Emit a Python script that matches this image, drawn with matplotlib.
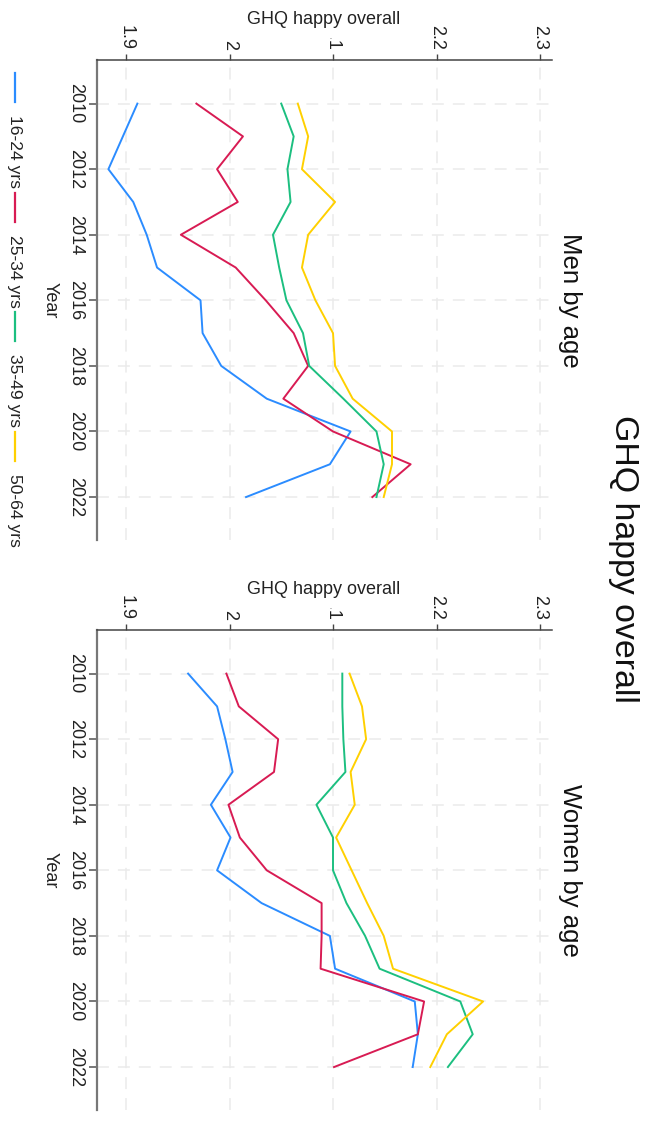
import matplotlib
matplotlib.use("Agg")
import matplotlib.pyplot as plt
from matplotlib.lines import Line2D

plt.rcParams['font.family'] = ['Liberation Sans', 'DejaVu Sans']

years = [2010, 2011, 2012, 2013, 2014, 2015, 2016, 2017, 2018, 2019, 2020, 2021, 2022]
groups = ["16-24 yrs", "25-34 yrs", "35-49 yrs", "50-64 yrs"]
colors = ["#2b8cff", "#d81b53", "#1cbf80", "#ffd000"]

men_16_24 = [1.911, 1.897, 1.883, 1.907, 1.920, 1.930, 1.972, 1.974, 1.992, 2.036, 2.117, 2.097, 2.016]
men_25_34 = [1.968, 2.013, 1.988, 2.008, 1.953, 2.006, 2.035, 2.062, 2.076, 2.052, 2.100, 2.175, 2.138]
men_35_49 = [2.050, 2.062, 2.056, 2.059, 2.042, 2.048, 2.055, 2.071, 2.077, 2.110, 2.142, 2.149, 2.142]
men_50_64 = [2.066, 2.076, 2.070, 2.102, 2.076, 2.070, 2.083, 2.100, 2.102, 2.119, 2.157, 2.157, 2.149]

women_16_24 = [1.960, 1.988, 1.996, 2.003, 1.982, 2.001, 1.988, 2.031, 2.097, 2.102, 2.179, 2.182, 2.177]
women_25_34 = [1.997, 2.009, 2.047, 2.043, 1.999, 2.010, 2.036, 2.089, 2.089, 2.088, 2.188, 2.182, 2.101]
women_35_49 = [2.109, 2.109, 2.110, 2.112, 2.084, 2.100, 2.100, 2.113, 2.131, 2.145, 2.223, 2.235, 2.211]
women_50_64 = [2.116, 2.128, 2.132, 2.117, 2.121, 2.103, 2.118, 2.133, 2.149, 2.158, 2.245, 2.210, 2.194]

value_ticks = [1.9, 2.0, 2.1, 2.2, 2.3]
value_labels = ["1.9", "2", "2.1", "2.2", "2.3"]
year_ticks = [2010, 2012, 2014, 2016, 2018, 2020, 2022]

panels = [
    ("Men by age", [men_16_24, men_25_34, men_35_49, men_50_64]),
    ("Women by age", [women_16_24, women_25_34, women_35_49, women_50_64]),
]

W, H = 650, 1126
fig = plt.figure(figsize=(W / 100, H / 100), dpi=100)

ax_left, ax_right = 97, 552
tops = [60, 630]
ax_h = 480

for (title, series), top in zip(panels, tops):
    ax = fig.add_axes([ax_left / W, 1 - (top + ax_h) / H, (ax_right - ax_left) / W, ax_h / H])
    for vals, c, g in zip(series, colors, groups):
        ax.plot(vals, years, color=c, lw=1.4, label=g, zorder=3)
    ax.set_xlim(1.87198, 2.31159)
    ax.set_ylim(2023.31, 2008.67)
    ax.set_xticks(value_ticks)
    ax.set_xticklabels(value_labels, rotation=-90)
    ax.set_yticks(year_ticks)
    ax.set_yticklabels([str(y) for y in year_ticks], rotation=-90, va='center')
    ax.xaxis.tick_top()
    ax.tick_params(axis='x', which='both', direction='out', length=4.5, width=1.0,
                   color='#444444', labelsize=13, pad=3, labelcolor='#222222')
    ax.tick_params(axis='y', direction='out', length=5.5, width=1.4,
                   color='#777777', labelsize=13, pad=4, labelcolor='#222222')
    for s in ['right', 'bottom']:
        ax.spines[s].set_visible(False)
    ax.spines['top'].set_color('#444444')
    ax.spines['top'].set_linewidth(1.1)
    ax.spines['left'].set_color('#777777')
    ax.spines['left'].set_linewidth(1.6)
    ax.grid(True, color='#ebebeb', lw=1.1, linestyle=(0, (7.8, 5.9)), zorder=0)
    ax.set_axisbelow(True)
    ax.set_xlabel("GHQ happy overall", fontsize=13, rotation=0, color='#222222',
                  bbox=dict(facecolor='white', edgecolor='none', pad=7))
    ax.xaxis.set_label_position('top')
    ax.xaxis.set_label_coords((324 - ax_left) / (ax_right - ax_left), 1 + 40 / ax_h)
    ax.xaxis.label.set_va('center')
    ax.xaxis.label.set_zorder(10)
    ax.set_ylabel("Year", fontsize=13, rotation=-90, color='#222222')
    ax.yaxis.set_label_coords((50 - ax_left) / (ax_right - ax_left), 0.5)
    ax.yaxis.label.set_va('center')
    ax.yaxis.label.set_ha('center')
    ax.text((570 - ax_left) / (ax_right - ax_left), 0.5, title, transform=ax.transAxes,
            rotation=-90, ha='center', va='center', fontsize=18.5, color='#111111')

fig.text(624 / W, 1 - 559 / H, "GHQ happy overall", rotation=-90, ha='center', va='center',
         fontsize=24.4, color='#111111')

# legend (rotated, drawn manually from the series labels/colours)
base_y, step = 73, 119.7
for i, (g, c) in enumerate(zip(groups, colors)):
    y0 = base_y + i * step
    fig.add_artist(Line2D([15 / W, 15 / W], [1 - y0 / H, 1 - (y0 + 29) / H],
                          color=c, lw=1.6, transform=fig.transFigure))
    fig.text(14 / W, 1 - (y0 + 42) / H, g, rotation=-90, ha='center', va='top',
             fontsize=12.6, color='#222222')

fig.savefig("out.png", dpi=100)
